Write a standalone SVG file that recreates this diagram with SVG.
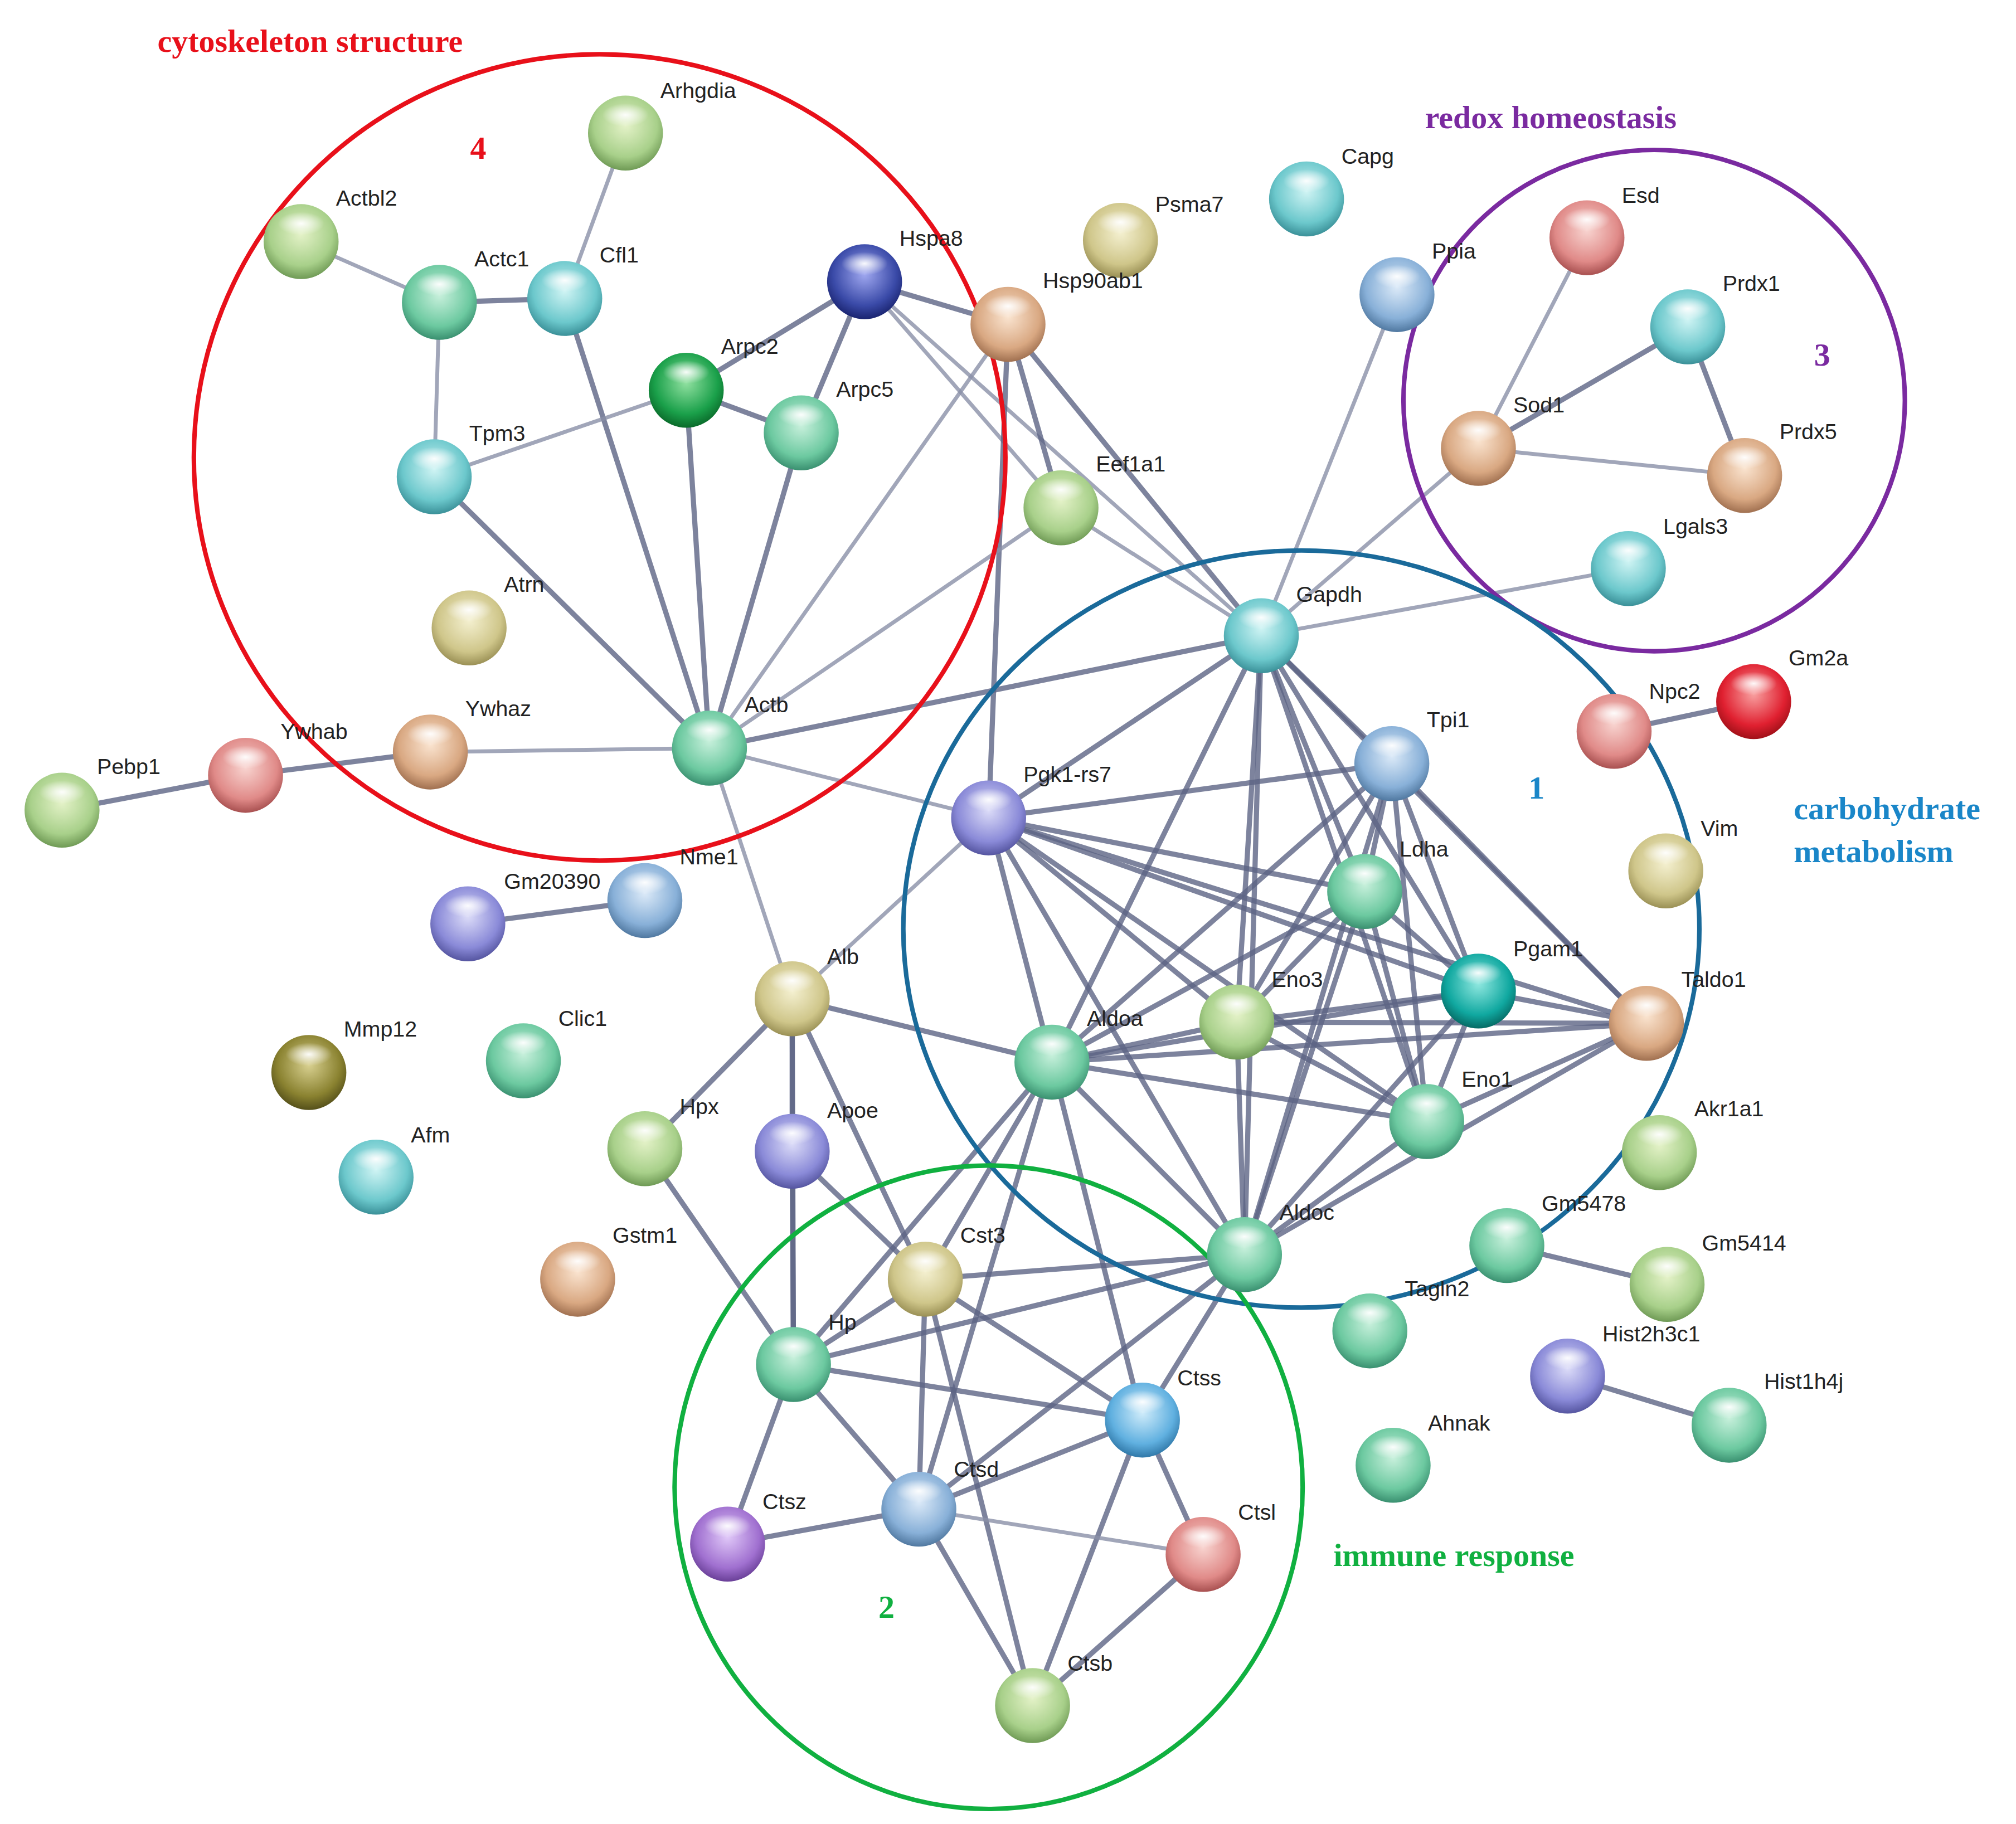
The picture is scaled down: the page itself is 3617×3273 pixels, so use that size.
<svg xmlns="http://www.w3.org/2000/svg" width="3617" height="3273" viewBox="0 0 3617 3273">
<style>
.e{stroke:#5d6485;stroke-width:4;stroke-opacity:.8;stroke-linecap:round}
.l{stroke:#8a90a8;stroke-width:3;stroke-opacity:.8}
.t{font-family:"Liberation Sans",Arial,sans-serif;font-size:17px;fill:#222}
.h{font-family:"Liberation Serif","Times New Roman",serif;font-size:25px;font-weight:bold}
.ring{fill:none;stroke-width:3.5}
.hl{fill:url(#hl)}
</style>
<defs>
<radialGradient id="hl" cx="50%" cy="50%" r="50%"><stop offset="0" stop-color="#fff" stop-opacity=".95"/><stop offset="1" stop-color="#fff" stop-opacity="0"/></radialGradient>
<radialGradient id="gl" cx="50%" cy="40%" r="60%"><stop offset="0" stop-color="#e4f2c8"/><stop offset=".7" stop-color="#a8d08a"/><stop offset="1" stop-color="#6f9a55"/></radialGradient>
<radialGradient id="mg" cx="50%" cy="40%" r="60%"><stop offset="0" stop-color="#c8f0dc"/><stop offset=".7" stop-color="#6cc9a0"/><stop offset="1" stop-color="#3a9070"/></radialGradient>
<radialGradient id="cy" cx="50%" cy="40%" r="60%"><stop offset="0" stop-color="#d0f4f4"/><stop offset=".7" stop-color="#6cc8cc"/><stop offset="1" stop-color="#3a9098"/></radialGradient>
<radialGradient id="nv" cx="50%" cy="40%" r="60%"><stop offset="0" stop-color="#a0a8f0"/><stop offset=".7" stop-color="#3a4aa8"/><stop offset="1" stop-color="#1a2470"/></radialGradient>
<radialGradient id="dg" cx="50%" cy="40%" r="60%"><stop offset="0" stop-color="#90e0a0"/><stop offset=".7" stop-color="#1aa04a"/><stop offset="1" stop-color="#0a6a2a"/></radialGradient>
<radialGradient id="tn" cx="50%" cy="40%" r="60%"><stop offset="0" stop-color="#fae4d0"/><stop offset=".7" stop-color="#d9a882"/><stop offset="1" stop-color="#a07050"/></radialGradient>
<radialGradient id="kh" cx="50%" cy="40%" r="60%"><stop offset="0" stop-color="#f4f0d0"/><stop offset=".7" stop-color="#cfc68a"/><stop offset="1" stop-color="#9a9055"/></radialGradient>
<radialGradient id="bl" cx="50%" cy="40%" r="60%"><stop offset="0" stop-color="#dceaf8"/><stop offset=".7" stop-color="#88b0d8"/><stop offset="1" stop-color="#5078a0"/></radialGradient>
<radialGradient id="pk" cx="50%" cy="40%" r="60%"><stop offset="0" stop-color="#f8d4d0"/><stop offset=".7" stop-color="#e08a88"/><stop offset="1" stop-color="#a85050"/></radialGradient>
<radialGradient id="rd" cx="50%" cy="40%" r="60%"><stop offset="0" stop-color="#f8a0a0"/><stop offset=".7" stop-color="#e02030"/><stop offset="1" stop-color="#a01018"/></radialGradient>
<radialGradient id="lv" cx="50%" cy="40%" r="60%"><stop offset="0" stop-color="#dcdcf8"/><stop offset=".7" stop-color="#8a8ad8"/><stop offset="1" stop-color="#5555a0"/></radialGradient>
<radialGradient id="td" cx="50%" cy="40%" r="60%"><stop offset="0" stop-color="#90e8e0"/><stop offset=".7" stop-color="#10a8a0"/><stop offset="1" stop-color="#066a64"/></radialGradient>
<radialGradient id="ol" cx="50%" cy="40%" r="60%"><stop offset="0" stop-color="#d8d090"/><stop offset=".7" stop-color="#8a8230"/><stop offset="1" stop-color="#55501a"/></radialGradient>
<radialGradient id="pu" cx="50%" cy="40%" r="60%"><stop offset="0" stop-color="#e0c8f8"/><stop offset=".7" stop-color="#a070d0"/><stop offset="1" stop-color="#6a4098"/></radialGradient>
<radialGradient id="sk" cx="50%" cy="40%" r="60%"><stop offset="0" stop-color="#d0ecfa"/><stop offset=".7" stop-color="#60b0e0"/><stop offset="1" stop-color="#3078a8"/></radialGradient>
</defs>
<rect width="3617" height="3273" fill="#fff"/>
<g transform="scale(2.3186)">
<g id="connectors">
<line class="l" x1="484" y1="103" x2="437" y2="231"/>
<line class="l" x1="233" y1="187" x2="340" y2="234"/>
<line class="e" x1="340" y1="234" x2="437" y2="231"/>
<line class="l" x1="340" y1="234" x2="336" y2="369"/>
<line class="e" x1="437" y1="231" x2="549" y2="579"/>
<line class="e" x1="669" y1="218" x2="531" y2="302"/>
<line class="e" x1="669" y1="218" x2="620" y2="335"/>
<line class="e" x1="669" y1="218" x2="780" y2="251"/>
<line class="l" x1="669" y1="218" x2="976" y2="492"/>
<line class="l" x1="669" y1="218" x2="821" y2="393"/>
<line class="e" x1="531" y1="302" x2="620" y2="335"/>
<line class="l" x1="531" y1="302" x2="336" y2="369"/>
<line class="e" x1="531" y1="302" x2="549" y2="579"/>
<line class="e" x1="620" y1="335" x2="549" y2="579"/>
<line class="e" x1="336" y1="369" x2="549" y2="579"/>
<line class="l" x1="780" y1="251" x2="549" y2="579"/>
<line class="e" x1="780" y1="251" x2="821" y2="393"/>
<line class="e" x1="780" y1="251" x2="976" y2="492"/>
<line class="e" x1="780" y1="251" x2="765" y2="633"/>
<line class="l" x1="821" y1="393" x2="549" y2="579"/>
<line class="l" x1="821" y1="393" x2="976" y2="492"/>
<line class="e" x1="549" y1="579" x2="976" y2="492"/>
<line class="l" x1="549" y1="579" x2="333" y2="582"/>
<line class="e" x1="333" y1="582" x2="190" y2="600"/>
<line class="e" x1="190" y1="600" x2="48" y2="627"/>
<line class="l" x1="549" y1="579" x2="765" y2="633"/>
<line class="l" x1="549" y1="579" x2="613" y2="773"/>
<line class="l" x1="1081" y1="228" x2="976" y2="492"/>
<line class="l" x1="1144" y1="347" x2="1228" y2="184"/>
<line class="e" x1="1144" y1="347" x2="1306" y2="253"/>
<line class="e" x1="1306" y1="253" x2="1350" y2="368"/>
<line class="l" x1="1144" y1="347" x2="1350" y2="368"/>
<line class="l" x1="1144" y1="347" x2="976" y2="492"/>
<line class="l" x1="1260" y1="440" x2="976" y2="492"/>
<line class="e" x1="1249" y1="566" x2="1357" y2="543"/>
<line class="e" x1="362" y1="715" x2="499" y2="697"/>
<line class="e" x1="976" y1="492" x2="1077" y2="591"/>
<line class="e" x1="976" y1="492" x2="765" y2="633"/>
<line class="e" x1="976" y1="492" x2="1056" y2="690"/>
<line class="e" x1="976" y1="492" x2="1144" y2="767"/>
<line class="e" x1="976" y1="492" x2="1274" y2="792"/>
<line class="e" x1="976" y1="492" x2="957" y2="791"/>
<line class="e" x1="976" y1="492" x2="814" y2="822"/>
<line class="e" x1="976" y1="492" x2="1104" y2="868"/>
<line class="e" x1="976" y1="492" x2="963" y2="971"/>
<line class="e" x1="1077" y1="591" x2="765" y2="633"/>
<line class="e" x1="1077" y1="591" x2="1056" y2="690"/>
<line class="e" x1="1077" y1="591" x2="957" y2="791"/>
<line class="e" x1="1077" y1="591" x2="814" y2="822"/>
<line class="e" x1="1077" y1="591" x2="1274" y2="792"/>
<line class="e" x1="1077" y1="591" x2="1144" y2="767"/>
<line class="e" x1="1077" y1="591" x2="1104" y2="868"/>
<line class="e" x1="1077" y1="591" x2="963" y2="971"/>
<line class="e" x1="765" y1="633" x2="1056" y2="690"/>
<line class="e" x1="765" y1="633" x2="1144" y2="767"/>
<line class="e" x1="765" y1="633" x2="1274" y2="792"/>
<line class="e" x1="765" y1="633" x2="957" y2="791"/>
<line class="e" x1="765" y1="633" x2="814" y2="822"/>
<line class="e" x1="765" y1="633" x2="1104" y2="868"/>
<line class="e" x1="765" y1="633" x2="963" y2="971"/>
<line class="l" x1="765" y1="633" x2="613" y2="773"/>
<line class="e" x1="1056" y1="690" x2="1144" y2="767"/>
<line class="e" x1="1056" y1="690" x2="1104" y2="868"/>
<line class="e" x1="1056" y1="690" x2="814" y2="822"/>
<line class="e" x1="1056" y1="690" x2="963" y2="971"/>
<line class="e" x1="1056" y1="690" x2="957" y2="791"/>
<line class="e" x1="1144" y1="767" x2="957" y2="791"/>
<line class="e" x1="1144" y1="767" x2="814" y2="822"/>
<line class="e" x1="1144" y1="767" x2="1104" y2="868"/>
<line class="e" x1="1144" y1="767" x2="1274" y2="792"/>
<line class="e" x1="1144" y1="767" x2="963" y2="971"/>
<line class="e" x1="957" y1="791" x2="1274" y2="792"/>
<line class="e" x1="957" y1="791" x2="814" y2="822"/>
<line class="e" x1="957" y1="791" x2="963" y2="971"/>
<line class="e" x1="957" y1="791" x2="1104" y2="868"/>
<line class="e" x1="814" y1="822" x2="1274" y2="792"/>
<line class="e" x1="814" y1="822" x2="1104" y2="868"/>
<line class="e" x1="814" y1="822" x2="963" y2="971"/>
<line class="e" x1="814" y1="822" x2="613" y2="773"/>
<line class="e" x1="814" y1="822" x2="716" y2="990"/>
<line class="e" x1="814" y1="822" x2="884" y2="1099"/>
<line class="e" x1="814" y1="822" x2="711" y2="1168"/>
<line class="e" x1="814" y1="822" x2="614" y2="1056"/>
<line class="e" x1="1104" y1="868" x2="1274" y2="792"/>
<line class="e" x1="1104" y1="868" x2="963" y2="971"/>
<line class="e" x1="963" y1="971" x2="1274" y2="792"/>
<line class="e" x1="963" y1="971" x2="716" y2="990"/>
<line class="e" x1="963" y1="971" x2="614" y2="1056"/>
<line class="e" x1="963" y1="971" x2="711" y2="1168"/>
<line class="e" x1="963" y1="971" x2="884" y2="1099"/>
<line class="e" x1="613" y1="773" x2="613" y2="891"/>
<line class="e" x1="613" y1="773" x2="499" y2="889"/>
<line class="e" x1="613" y1="773" x2="614" y2="1056"/>
<line class="e" x1="613" y1="773" x2="716" y2="990"/>
<line class="e" x1="613" y1="891" x2="614" y2="1056"/>
<line class="e" x1="613" y1="891" x2="716" y2="990"/>
<line class="e" x1="499" y1="889" x2="614" y2="1056"/>
<line class="e" x1="716" y1="990" x2="614" y2="1056"/>
<line class="e" x1="716" y1="990" x2="884" y2="1099"/>
<line class="e" x1="716" y1="990" x2="711" y2="1168"/>
<line class="e" x1="716" y1="990" x2="799" y2="1320"/>
<line class="e" x1="614" y1="1056" x2="884" y2="1099"/>
<line class="e" x1="614" y1="1056" x2="711" y2="1168"/>
<line class="e" x1="614" y1="1056" x2="563" y2="1195"/>
<line class="e" x1="884" y1="1099" x2="711" y2="1168"/>
<line class="e" x1="884" y1="1099" x2="931" y2="1203"/>
<line class="e" x1="884" y1="1099" x2="799" y2="1320"/>
<line class="e" x1="711" y1="1168" x2="563" y2="1195"/>
<line class="l" x1="711" y1="1168" x2="931" y2="1203"/>
<line class="e" x1="711" y1="1168" x2="799" y2="1320"/>
<line class="e" x1="931" y1="1203" x2="799" y2="1320"/>
<line class="e" x1="1166" y1="964" x2="1290" y2="994"/>
<line class="e" x1="1213" y1="1065" x2="1338" y2="1103"/>
</g>
<g fill="none">
<ellipse class="ring" cx="464" cy="354" rx="314" ry="312" stroke="#e8101a"/>
<circle class="ring" cx="1280" cy="310" r="194" stroke="#7a2aa0"/>
<ellipse class="ring" cx="1007" cy="719" rx="308" ry="293" stroke="#1a6a9a"/>
<ellipse class="ring" cx="765" cy="1151" rx="243" ry="249" stroke="#10b040"/>
</g>
<g class="h">
<text x="240" y="40" text-anchor="middle" fill="#e8101a">cytoskeleton structure</text>
<text x="370" y="123" text-anchor="middle" fill="#e8101a">4</text>
<text x="1200" y="99" text-anchor="middle" fill="#7a2aa0">redox homeostasis</text>
<text x="1410" y="283" text-anchor="middle" fill="#7a2aa0">3</text>
<text x="1189" y="618" text-anchor="middle" fill="#1a86c8">1</text>
<text x="1388" y="634" fill="#1a86c8">carbohydrate</text>
<text x="1388" y="667" fill="#1a86c8">metabolism</text>
<text x="1125" y="1212" text-anchor="middle" fill="#10b040">immune response</text>
<text x="686" y="1252" text-anchor="middle" fill="#10b040">2</text>
</g>
<g id="Arhgdia"><circle cx="484" cy="103" r="29" fill="url(#gl)"/><ellipse class="hl" cx="484" cy="89" rx="18" ry="9"/><text class="t" x="511" y="76">Arhgdia</text></g>
<g id="Actbl2"><circle cx="233" cy="187" r="29" fill="url(#gl)"/><ellipse class="hl" cx="233" cy="173" rx="18" ry="9"/><text class="t" x="260" y="159">Actbl2</text></g>
<g id="Actc1"><circle cx="340" cy="234" r="29" fill="url(#mg)"/><ellipse class="hl" cx="340" cy="220" rx="18" ry="9"/><text class="t" x="367" y="206">Actc1</text></g>
<g id="Cfl1"><circle cx="437" cy="231" r="29" fill="url(#cy)"/><ellipse class="hl" cx="437" cy="217" rx="18" ry="9"/><text class="t" x="464" y="203">Cfl1</text></g>
<g id="Hspa8"><circle cx="669" cy="218" r="29" fill="url(#nv)"/><ellipse class="hl" cx="669" cy="204" rx="18" ry="9"/><text class="t" x="696" y="190">Hspa8</text></g>
<g id="Arpc2"><circle cx="531" cy="302" r="29" fill="url(#dg)"/><ellipse class="hl" cx="531" cy="288" rx="18" ry="9"/><text class="t" x="558" y="274">Arpc2</text></g>
<g id="Arpc5"><circle cx="620" cy="335" r="29" fill="url(#mg)"/><ellipse class="hl" cx="620" cy="321" rx="18" ry="9"/><text class="t" x="647" y="307">Arpc5</text></g>
<g id="Tpm3"><circle cx="336" cy="369" r="29" fill="url(#cy)"/><ellipse class="hl" cx="336" cy="355" rx="18" ry="9"/><text class="t" x="363" y="341">Tpm3</text></g>
<g id="Atrn"><circle cx="363" cy="486" r="29" fill="url(#kh)"/><ellipse class="hl" cx="363" cy="472" rx="18" ry="9"/><text class="t" x="390" y="458">Atrn</text></g>
<g id="Actb"><circle cx="549" cy="579" r="29" fill="url(#mg)"/><ellipse class="hl" cx="549" cy="565" rx="18" ry="9"/><text class="t" x="576" y="551">Actb</text></g>
<g id="Ywhaz"><circle cx="333" cy="582" r="29" fill="url(#tn)"/><ellipse class="hl" cx="333" cy="568" rx="18" ry="9"/><text class="t" x="360" y="554">Ywhaz</text></g>
<g id="Ywhab"><circle cx="190" cy="600" r="29" fill="url(#pk)"/><ellipse class="hl" cx="190" cy="586" rx="18" ry="9"/><text class="t" x="217" y="572">Ywhab</text></g>
<g id="Pebp1"><circle cx="48" cy="627" r="29" fill="url(#gl)"/><ellipse class="hl" cx="48" cy="613" rx="18" ry="9"/><text class="t" x="75" y="599">Pebp1</text></g>
<g id="Psma7"><circle cx="867" cy="186" r="29" fill="url(#kh)"/><ellipse class="hl" cx="867" cy="172" rx="18" ry="9"/><text class="t" x="894" y="164">Psma7</text></g>
<g id="Hsp90ab1"><circle cx="780" cy="251" r="29" fill="url(#tn)"/><ellipse class="hl" cx="780" cy="237" rx="18" ry="9"/><text class="t" x="807" y="223">Hsp90ab1</text></g>
<g id="Eef1a1"><circle cx="821" cy="393" r="29" fill="url(#gl)"/><ellipse class="hl" cx="821" cy="379" rx="18" ry="9"/><text class="t" x="848" y="365">Eef1a1</text></g>
<g id="Capg"><circle cx="1011" cy="154" r="29" fill="url(#cy)"/><ellipse class="hl" cx="1011" cy="140" rx="18" ry="9"/><text class="t" x="1038" y="127">Capg</text></g>
<g id="Ppia"><circle cx="1081" cy="228" r="29" fill="url(#bl)"/><ellipse class="hl" cx="1081" cy="214" rx="18" ry="9"/><text class="t" x="1108" y="200">Ppia</text></g>
<g id="Esd"><circle cx="1228" cy="184" r="29" fill="url(#pk)"/><ellipse class="hl" cx="1228" cy="170" rx="18" ry="9"/><text class="t" x="1255" y="157">Esd</text></g>
<g id="Prdx1"><circle cx="1306" cy="253" r="29" fill="url(#cy)"/><ellipse class="hl" cx="1306" cy="239" rx="18" ry="9"/><text class="t" x="1333" y="225">Prdx1</text></g>
<g id="Sod1"><circle cx="1144" cy="347" r="29" fill="url(#tn)"/><ellipse class="hl" cx="1144" cy="333" rx="18" ry="9"/><text class="t" x="1171" y="319">Sod1</text></g>
<g id="Prdx5"><circle cx="1350" cy="368" r="29" fill="url(#tn)"/><ellipse class="hl" cx="1350" cy="354" rx="18" ry="9"/><text class="t" x="1377" y="340">Prdx5</text></g>
<g id="Lgals3"><circle cx="1260" cy="440" r="29" fill="url(#cy)"/><ellipse class="hl" cx="1260" cy="426" rx="18" ry="9"/><text class="t" x="1287" y="413">Lgals3</text></g>
<g id="Gapdh"><circle cx="976" cy="492" r="29" fill="url(#cy)"/><ellipse class="hl" cx="976" cy="478" rx="18" ry="9"/><text class="t" x="1003" y="466">Gapdh</text></g>
<g id="Gm2a"><circle cx="1357" cy="543" r="29" fill="url(#rd)"/><ellipse class="hl" cx="1357" cy="529" rx="18" ry="9"/><text class="t" x="1384" y="515">Gm2a</text></g>
<g id="Npc2"><circle cx="1249" cy="566" r="29" fill="url(#pk)"/><ellipse class="hl" cx="1249" cy="552" rx="18" ry="9"/><text class="t" x="1276" y="541">Npc2</text></g>
<g id="Tpi1"><circle cx="1077" cy="591" r="29" fill="url(#bl)"/><ellipse class="hl" cx="1077" cy="577" rx="18" ry="9"/><text class="t" x="1104" y="563">Tpi1</text></g>
<g id="Pgk1-rs7"><circle cx="765" cy="633" r="29" fill="url(#lv)"/><ellipse class="hl" cx="765" cy="619" rx="18" ry="9"/><text class="t" x="792" y="605">Pgk1-rs7</text></g>
<g id="Ldha"><circle cx="1056" cy="690" r="29" fill="url(#mg)"/><ellipse class="hl" cx="1056" cy="676" rx="18" ry="9"/><text class="t" x="1083" y="663">Ldha</text></g>
<g id="Vim"><circle cx="1289" cy="674" r="29" fill="url(#kh)"/><ellipse class="hl" cx="1289" cy="660" rx="18" ry="9"/><text class="t" x="1316" y="647">Vim</text></g>
<g id="Nme1"><circle cx="499" cy="697" r="29" fill="url(#bl)"/><ellipse class="hl" cx="499" cy="683" rx="18" ry="9"/><text class="t" x="526" y="669">Nme1</text></g>
<g id="Gm20390"><circle cx="362" cy="715" r="29" fill="url(#lv)"/><ellipse class="hl" cx="362" cy="701" rx="18" ry="9"/><text class="t" x="390" y="688">Gm20390</text></g>
<g id="Pgam1"><circle cx="1144" cy="767" r="29" fill="url(#td)"/><ellipse class="hl" cx="1144" cy="753" rx="18" ry="9"/><text class="t" x="1171" y="740">Pgam1</text></g>
<g id="Taldo1"><circle cx="1274" cy="792" r="29" fill="url(#tn)"/><ellipse class="hl" cx="1274" cy="778" rx="18" ry="9"/><text class="t" x="1301" y="764">Taldo1</text></g>
<g id="Alb"><circle cx="613" cy="773" r="29" fill="url(#kh)"/><ellipse class="hl" cx="613" cy="759" rx="18" ry="9"/><text class="t" x="640" y="746">Alb</text></g>
<g id="Eno3"><circle cx="957" cy="791" r="29" fill="url(#gl)"/><ellipse class="hl" cx="957" cy="777" rx="18" ry="9"/><text class="t" x="984" y="764">Eno3</text></g>
<g id="Aldoa"><circle cx="814" cy="822" r="29" fill="url(#mg)"/><ellipse class="hl" cx="814" cy="808" rx="18" ry="9"/><text class="t" x="841" y="794">Aldoa</text></g>
<g id="Mmp12"><circle cx="239" cy="830" r="29" fill="url(#ol)"/><ellipse class="hl" cx="239" cy="816" rx="18" ry="9"/><text class="t" x="266" y="802">Mmp12</text></g>
<g id="Clic1"><circle cx="405" cy="821" r="29" fill="url(#mg)"/><ellipse class="hl" cx="405" cy="807" rx="18" ry="9"/><text class="t" x="432" y="794">Clic1</text></g>
<g id="Eno1"><circle cx="1104" cy="868" r="29" fill="url(#mg)"/><ellipse class="hl" cx="1104" cy="854" rx="18" ry="9"/><text class="t" x="1131" y="841">Eno1</text></g>
<g id="Akr1a1"><circle cx="1284" cy="892" r="29" fill="url(#gl)"/><ellipse class="hl" cx="1284" cy="878" rx="18" ry="9"/><text class="t" x="1311" y="864">Akr1a1</text></g>
<g id="Hpx"><circle cx="499" cy="889" r="29" fill="url(#gl)"/><ellipse class="hl" cx="499" cy="875" rx="18" ry="9"/><text class="t" x="526" y="862">Hpx</text></g>
<g id="Apoe"><circle cx="613" cy="891" r="29" fill="url(#lv)"/><ellipse class="hl" cx="613" cy="877" rx="18" ry="9"/><text class="t" x="640" y="865">Apoe</text></g>
<g id="Afm"><circle cx="291" cy="911" r="29" fill="url(#cy)"/><ellipse class="hl" cx="291" cy="897" rx="18" ry="9"/><text class="t" x="318" y="884">Afm</text></g>
<g id="Aldoc"><circle cx="963" cy="971" r="29" fill="url(#mg)"/><ellipse class="hl" cx="963" cy="957" rx="18" ry="9"/><text class="t" x="990" y="944">Aldoc</text></g>
<g id="Gm5478"><circle cx="1166" cy="964" r="29" fill="url(#mg)"/><ellipse class="hl" cx="1166" cy="950" rx="18" ry="9"/><text class="t" x="1193" y="937">Gm5478</text></g>
<g id="Gm5414"><circle cx="1290" cy="994" r="29" fill="url(#gl)"/><ellipse class="hl" cx="1290" cy="980" rx="18" ry="9"/><text class="t" x="1317" y="968">Gm5414</text></g>
<g id="Gstm1"><circle cx="447" cy="990" r="29" fill="url(#tn)"/><ellipse class="hl" cx="447" cy="976" rx="18" ry="9"/><text class="t" x="474" y="962">Gstm1</text></g>
<g id="Cst3"><circle cx="716" cy="990" r="29" fill="url(#kh)"/><ellipse class="hl" cx="716" cy="976" rx="18" ry="9"/><text class="t" x="743" y="962">Cst3</text></g>
<g id="Tagln2"><circle cx="1060" cy="1030" r="29" fill="url(#mg)"/><ellipse class="hl" cx="1060" cy="1016" rx="18" ry="9"/><text class="t" x="1087" y="1003">Tagln2</text></g>
<g id="Hp"><circle cx="614" cy="1056" r="29" fill="url(#mg)"/><ellipse class="hl" cx="614" cy="1042" rx="18" ry="9"/><text class="t" x="641" y="1029">Hp</text></g>
<g id="Hist2h3c1"><circle cx="1213" cy="1065" r="29" fill="url(#lv)"/><ellipse class="hl" cx="1213" cy="1051" rx="18" ry="9"/><text class="t" x="1240" y="1038">Hist2h3c1</text></g>
<g id="Hist1h4j"><circle cx="1338" cy="1103" r="29" fill="url(#mg)"/><ellipse class="hl" cx="1338" cy="1089" rx="18" ry="9"/><text class="t" x="1365" y="1075">Hist1h4j</text></g>
<g id="Ctss"><circle cx="884" cy="1099" r="29" fill="url(#sk)"/><ellipse class="hl" cx="884" cy="1085" rx="18" ry="9"/><text class="t" x="911" y="1072">Ctss</text></g>
<g id="Ahnak"><circle cx="1078" cy="1134" r="29" fill="url(#mg)"/><ellipse class="hl" cx="1078" cy="1120" rx="18" ry="9"/><text class="t" x="1105" y="1107">Ahnak</text></g>
<g id="Ctsd"><circle cx="711" cy="1168" r="29" fill="url(#bl)"/><ellipse class="hl" cx="711" cy="1154" rx="18" ry="9"/><text class="t" x="738" y="1143">Ctsd</text></g>
<g id="Ctsz"><circle cx="563" cy="1195" r="29" fill="url(#pu)"/><ellipse class="hl" cx="563" cy="1181" rx="18" ry="9"/><text class="t" x="590" y="1168">Ctsz</text></g>
<g id="Ctsl"><circle cx="931" cy="1203" r="29" fill="url(#pk)"/><ellipse class="hl" cx="931" cy="1189" rx="18" ry="9"/><text class="t" x="958" y="1176">Ctsl</text></g>
<g id="Ctsb"><circle cx="799" cy="1320" r="29" fill="url(#gl)"/><ellipse class="hl" cx="799" cy="1306" rx="18" ry="9"/><text class="t" x="826" y="1293">Ctsb</text></g>
</g>
</svg>
